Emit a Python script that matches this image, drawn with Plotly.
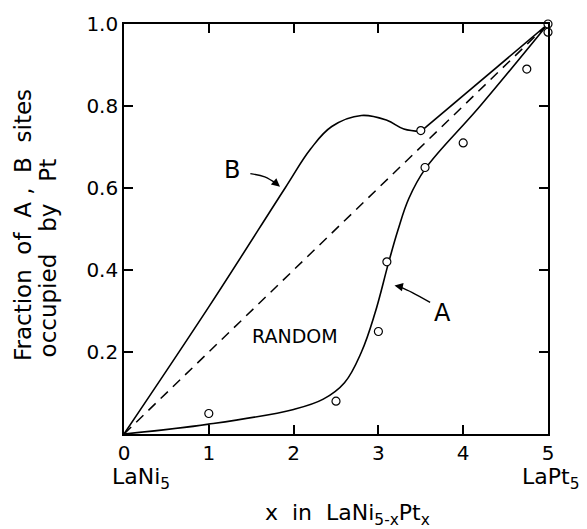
import plotly.graph_objects as go

# Data
pts_x = [1.0, 2.5, 3.0, 3.1, 3.5, 3.55, 4.0, 4.75, 5.0, 5.0]
pts_y = [0.05, 0.08, 0.25, 0.42, 0.74, 0.65, 0.71, 0.89, 1.0, 0.98]

# curve B (rising part with hump, then straight to LaPt5)
curveB_x = [0, 1.0, 1.9, 2.2, 2.45, 2.8, 3.1, 3.3, 3.5]
curveB_y = [0, 0.31, 0.60, 0.695, 0.75, 0.777, 0.765, 0.744, 0.738]
curveB2_x = [3.5, 5.0]
curveB2_y = [0.738, 1.0]

# curve A
curveA_x = [0, 1.0, 2.0, 2.35, 2.6, 2.8, 2.96, 3.12, 3.23, 3.36, 3.55, 4.2, 5.0]
curveA_y = [0, 0.024, 0.06, 0.085, 0.125, 0.2, 0.295, 0.418, 0.497, 0.575, 0.646, 0.80, 1.0]

random_x = [0, 5]
random_y = [0, 1]

arrowB_x = [1.49, 1.66, 1.80]
arrowB_y = [0.635, 0.627, 0.61]
arrowA_x = [3.61, 3.40, 3.24]
arrowA_y = [0.321, 0.345, 0.36]

x_ticks = [0, 1, 2, 3, 4, 5]
x_ticklabels = ["0", "1", "2", "3", "4", "5"]
y_ticks = [0.2, 0.4, 0.6, 0.8, 1.0]
y_ticklabels = ["0.2", "0.4", "0.6", "0.8", "1.0"]

FONT = "DejaVu Sans"
NB = "\u00a0"

fig = go.Figure()
fig.add_trace(go.Scatter(x=random_x, y=random_y, mode="lines",
                         line=dict(color="black", width=1.5, dash="10px,7px")))
fig.add_trace(go.Scatter(x=curveB_x, y=curveB_y, mode="lines",
                         line=dict(color="black", width=1.6, shape="spline", smoothing=1.1)))
fig.add_trace(go.Scatter(x=curveB2_x, y=curveB2_y, mode="lines",
                         line=dict(color="black", width=1.6)))
fig.add_trace(go.Scatter(x=curveA_x, y=curveA_y, mode="lines",
                         line=dict(color="black", width=1.6, shape="spline", smoothing=1.1)))
fig.add_trace(go.Scatter(x=arrowB_x, y=arrowB_y, mode="lines",
                         line=dict(color="black", width=1.4, shape="spline")))
fig.add_trace(go.Scatter(x=arrowA_x, y=arrowA_y, mode="lines",
                         line=dict(color="black", width=1.4, shape="spline")))
fig.add_trace(go.Scatter(x=pts_x, y=pts_y, mode="markers", cliponaxis=False,
                         marker=dict(symbol="circle", size=8, color="white",
                                     line=dict(color="black", width=1.2))))

# arrowheads
fig.add_annotation(x=1.84, y=0.603, ax=arrowB_x[-1], ay=arrowB_y[-1], axref="x", ayref="y",
                   xref="x", yref="y", text="", showarrow=True, arrowhead=2, arrowsize=1.2,
                   arrowwidth=1.4, arrowcolor="black")
fig.add_annotation(x=3.19, y=0.362, ax=arrowA_x[-1], ay=arrowA_y[-1], axref="x", ayref="y",
                   xref="x", yref="y", text="", showarrow=True, arrowhead=2, arrowsize=1.2,
                   arrowwidth=1.4, arrowcolor="black")

fig.add_annotation(x=1.27, y=0.645, text="B", showarrow=False, font=dict(size=24, family=FONT, color="black"))
fig.add_annotation(x=3.76, y=0.295, text="A", showarrow=False, font=dict(size=24, family=FONT, color="black"))
fig.add_annotation(x=2.02, y=0.24, text="RANDOM", showarrow=False, font=dict(size=19, family=FONT, color="black"))

fig.add_annotation(xref="paper", yref="paper", x=0, y=0, xshift=17, yshift=-44,
                   xanchor="center", yanchor="middle",
                   text="LaNi<sub>5</sub>", showarrow=False, font=dict(size=22, family=FONT, color="black"))
fig.add_annotation(xref="paper", yref="paper", x=1, y=0, xshift=2, yshift=-44,
                   xanchor="center", yanchor="middle",
                   text="LaPt<sub>5</sub>", showarrow=False, font=dict(size=22, family=FONT, color="black"))
fig.add_annotation(xref="paper", yref="paper", x=0.5, y=0, xshift=11, yshift=-80,
                   xanchor="center", yanchor="middle",
                   text=f"x{NB}{NB}in{NB}{NB}LaNi<sub>5-x</sub>Pt<sub>x</sub>", showarrow=False,
                   font=dict(size=22, family=FONT, color="black"))
# y-axis title, two lines
fig.add_annotation(xref="paper", yref="paper", x=0, y=(434 - 221) / 418, xshift=-101,
                   xanchor="center", yanchor="middle", textangle=-90,
                   text=f"Fraction{NB}{NB}of{NB}{NB}A{NB},{NB}{NB}B{NB}{NB}sites", showarrow=False,
                   font=dict(size=23, family=FONT, color="black"))
fig.add_annotation(xref="paper", yref="paper", x=0, y=(434 - 255) / 418, xshift=-76,
                   xanchor="center", yanchor="middle", textangle=-90,
                   text=f"occupied{NB}{NB}{NB}by{NB}{NB}{NB}Pt", showarrow=False,
                   font=dict(size=23, family=FONT, color="black"))

axis_common = dict(showgrid=False, zeroline=False, showline=True, linecolor="black", linewidth=1.6,
                   mirror="ticks", ticks="inside", ticklen=9, tickwidth=1.5, tickcolor="black",
                   tickfont=dict(size=20, family=FONT, color="black"))
fig.update_xaxes(range=[0, 5], tickvals=x_ticks, ticktext=x_ticklabels, **axis_common)
fig.update_yaxes(range=[0, 1], tickvals=y_ticks, ticktext=y_ticklabels, **axis_common)

fig.update_layout(width=587, height=529, margin=dict(l=124, r=39, t=16, b=95),
                  plot_bgcolor="white", paper_bgcolor="white", showlegend=False,
                  font=dict(family=FONT, color="black"))

fig.write_html("out.html")
